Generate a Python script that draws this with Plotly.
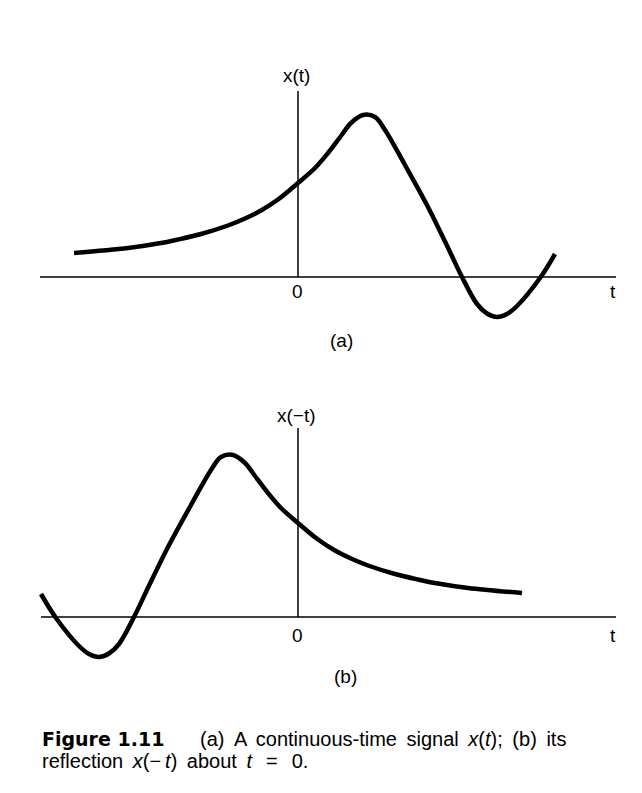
import plotly.graph_objects as go

# Signal x(t) (arbitrary units)
t_vals = [-4.48, -3.40, -2.74, -2.40, -1.94, -1.40, -1.06, -0.74, -0.40, 0.00, 0.34, 0.60,
          0.86, 1.06, 1.30, 1.54, 1.74, 2.14, 2.60, 3.04, 3.28, 3.58, 3.78, 3.98, 4.18,
          4.38, 4.84, 5.14]
x_vals = [0.48, 0.58, 0.68, 0.75, 0.86, 1.03, 1.17, 1.33, 1.55, 1.88, 2.18, 2.48,
          2.82, 3.08, 3.24, 3.20, 2.94, 2.24, 1.40, 0.50, 0.00, -0.54, -0.73, -0.80, -0.74,
          -0.58, -0.02, 0.46]

# reflected signal x(-t)
t_ref = [-v for v in t_vals]

# axis extents (t from, t to, top of vertical axis)
axis_a = [-5.16, 6.36, 3.72]
axis_b = [-5.14, 6.36, 3.78]

# labels: text, t, value
labels_a = [("x(t)", -0.04, 4.04), ("0", -0.02, -0.28), ("t", 6.30, -0.28), ("(a)", 0.86, -1.26)]
labels_b = [("x(\u2212t)", -0.04, 4.04), ("0", -0.02, -0.36), ("t", 6.30, -0.36), ("(b)", 0.94, -1.18)]

caption_bold = "Figure 1.11"
caption_line1 = ("(a) \u2009A \u2009continuous-time \u2009signal \u2009<i>x</i>(<i>t</i>); "
                 "\u2009(b) \u2009its")
caption_line2 = ("reflection \u2009<i>x</i>(\u2212\u2009<i>t</i>) \u2009about \u2009"
                 "<i>t</i>\u2002\u2009=\u2002\u20090.")

W, H = 642, 793
FONT = "Liberation Sans, Arial, Helvetica, sans-serif"

fig = go.Figure()
fig.add_trace(go.Scatter(x=t_vals, y=x_vals, mode="lines", xaxis="x", yaxis="y",
                         line=dict(color="black", width=4.5, shape="spline", smoothing=1.0),
                         hoverinfo="skip", showlegend=False))
fig.add_trace(go.Scatter(x=t_ref, y=x_vals, mode="lines", xaxis="x2", yaxis="y2",
                         line=dict(color="black", width=4.5, shape="spline", smoothing=1.0),
                         hoverinfo="skip", showlegend=False))

shapes = []
for (xr, yr, ax) in [("x", "y", axis_a), ("x2", "y2", axis_b)]:
    shapes.append(dict(type="line", xref=xr, yref=yr, x0=ax[0], x1=ax[1], y0=0, y1=0,
                       line=dict(color="black", width=1.5)))
    shapes.append(dict(type="line", xref=xr, yref=yr, x0=0, x1=0, y0=0, y1=ax[2],
                       line=dict(color="black", width=1.5)))

annotations = []
for (xr, yr, labs) in [("x", "y", labels_a), ("x2", "y2", labels_b)]:
    for txt, tx, ty in labs:
        annotations.append(dict(text=txt, x=tx, y=ty, xref=xr, yref=yr, showarrow=False,
                                xanchor="center", yanchor="middle",
                                font=dict(family=FONT, size=19, color="black")))

annotations.append(dict(text="<b>" + caption_bold + "</b>", x=32 / W, y=1 - 731 / H,
                        xref="paper", yref="paper", showarrow=False, xanchor="left", yanchor="middle",
                        font=dict(family="DejaVu Sans, sans-serif", size=19, color="black")))
annotations.append(dict(text=caption_line1, x=190 / W, y=1 - 731 / H,
                        xref="paper", yref="paper", showarrow=False, xanchor="left", yanchor="middle",
                        font=dict(family=FONT, size=20, color="black")))
annotations.append(dict(text=caption_line2, x=32 / W, y=1 - 753 / H,
                        xref="paper", yref="paper", showarrow=False, xanchor="left", yanchor="middle",
                        font=dict(family=FONT, size=20, color="black")))

ax_common = dict(visible=False, showgrid=False, zeroline=False, fixedrange=True)
fig.update_layout(
    width=W, height=H,
    margin=dict(l=0, r=0, t=0, b=0),
    paper_bgcolor="white", plot_bgcolor="white",
    xaxis=dict(domain=[0, 1], range=[-5.8, 7.04], anchor="y", **ax_common),
    yaxis=dict(domain=[0.5, 1], range=[-2.55, 5.38], anchor="x", **ax_common),
    xaxis2=dict(domain=[0, 1], range=[-5.8, 7.04], anchor="y2", **ax_common),
    yaxis2=dict(domain=[0, 0.5], range=[-3.68, 4.25], anchor="x2", **ax_common),
    shapes=shapes,
    annotations=annotations,
)

fig.write_html("out.html", config={"displayModeBar": False})
